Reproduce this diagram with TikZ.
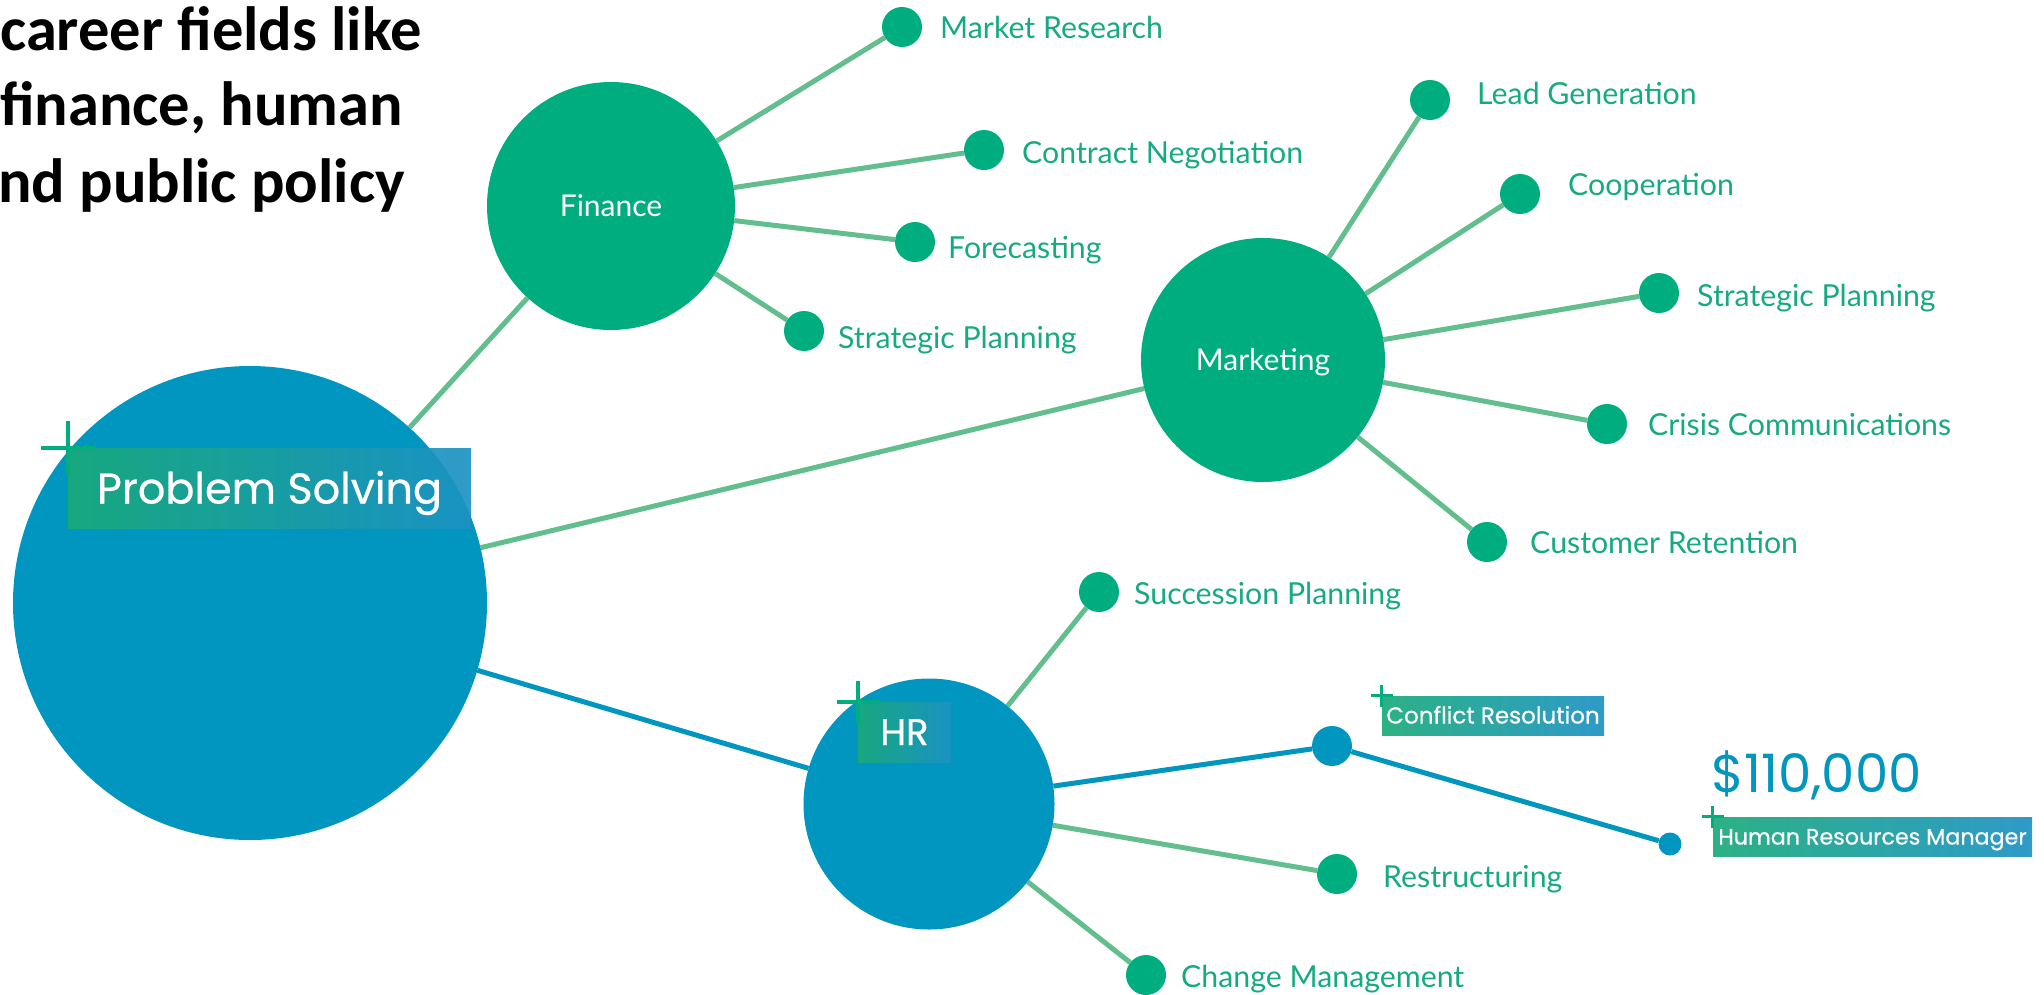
\documentclass[tikz,border=0pt]{standalone}
\usepackage{fontspec}
\setmainfont{Lato}
\newfontfamily\popp{Poppins}
\newfontfamily\poppm[FakeBold=0.6]{Poppins}
\newfontfamily\carl{Carlito}
\usetikzlibrary{backgrounds}
\definecolor{cgreen}{RGB}{0,173,127}
\definecolor{cblue}{RGB}{0,150,192}
\definecolor{lgreen}{RGB}{98,190,140}
\definecolor{tgreen}{RGB}{22,170,130}
\definecolor{gA}{RGB}{26,170,122}
\definecolor{gB}{RGB}{28,146,196}
\tikzset{
  big/.style={circle, inner sep=0pt, minimum size=#1, text=white,
    font=\fontsize{30}{36}\selectfont, text height=21.5pt, text depth=0pt},
  gdot/.style={circle, inner sep=0pt, minimum size=40pt, fill=cgreen},
  bdot/.style={circle, inner sep=0pt, minimum size=#1, fill=cblue},
  leaf/.style={anchor=base west, inner sep=0pt, text=tgreen, font=\fontsize{30.3}{36}\selectfont},
  gline/.style={draw=lgreen, line width=5pt},
  bline/.style={draw=cblue, line width=5pt},
  gbox/.style={inner sep=0pt, left color=gA, right color=gB, fill opacity=0.92,
    text opacity=1, text=white},
  plusline/.style={draw=cgreen, line width=#1},
  toptext/.style={anchor=base west, inner sep=0pt, text=black,
    font=\carl\bfseries\fontsize{62.5}{76}\selectfont},
}
\begin{document}
\begin{tikzpicture}[x=1pt, y=-1pt]
\useasboundingbox (0,0) rectangle (2044,994);
\clip (0,0) rectangle (2044,994);

% top-left text
\node[toptext] (t1) at (0,50) {career fields like};
\node[toptext] (t2) at (0,125) {finance, human};
\node[toptext] (t3) at (-2,202) {nd public policy};

% main circles
\node[big=474pt, fill=cblue] (ps) at (250,603) {};
\node[big=248pt, fill=cgreen] (fin) at (611,206) {Finance};
\node[big=244pt, fill=cgreen] (mkt) at (1263,360) {Marketing};
\node[big=251pt, fill=cblue] (hr) at (929,804) {};

% leaf dots
\node[gdot] (mr) at (902,27) {};
\node[gdot] (cn) at (984,150) {};
\node[gdot] (fc) at (915,242) {};
\node[gdot] (spf) at (804,331) {};
\node[gdot] (lg) at (1430,100) {};
\node[gdot] (coop) at (1520,194) {};
\node[gdot] (spm) at (1659,293) {};
\node[gdot] (cc) at (1607,424) {};
\node[gdot] (cur) at (1487,542) {};
\node[gdot] (sup) at (1099,592) {};
\node[bdot=40pt] (crd) at (1332,746) {};
\node[bdot=23pt] (hrmd) at (1670,844) {};
\node[gdot] (rst) at (1337,874) {};
\node[gdot] (chm) at (1146,975) {};

% connectors
\begin{scope}[on background layer]
\draw[gline] (ps) -- (fin);
\draw[gline] (ps) -- (mkt);
\draw[bline] (ps) -- (hr);
\draw[gline] (fin) -- (mr);
\draw[gline] (fin) -- (cn);
\draw[gline] (fin) -- (fc);
\draw[gline] (fin) -- (spf);
\draw[gline] (mkt) -- (lg);
\draw[gline] (mkt) -- (coop);
\draw[gline] (mkt) -- (spm);
\draw[gline] (mkt) -- (cc);
\draw[gline] (mkt) -- (cur);
\draw[gline] (hr) -- (sup);
\draw[bline] (hr) -- (crd);
\draw[gline] (hr) -- (rst);
\draw[gline] (hr) -- (chm);
\draw[bline] (crd) -- (hrmd);
\end{scope}

% leaf labels
\node[leaf] (lmr) at (940,38) {Market Research};
\node[leaf] (lcn) at (1022,163) {Contract Negotiation};
\node[leaf] (lfc) at (948,258) {Forecasting};
\node[leaf] (lspf) at (838,348) {Strategic Planning};
\node[leaf] (llg) at (1477,104) {Lead Generation};
\node[leaf] (lcoop) at (1568,195) {Cooperation};
\node[leaf] (lspm) at (1697,306) {Strategic Planning};
\node[leaf] (lcc) at (1648,435) {Crisis Communications};
\node[leaf] (lcur) at (1530,553) {Customer Retention};
\node[leaf] (lsup) at (1134,604) {Succession Planning};
\node[leaf] (lrst) at (1383,887) {Restructuring};
\node[leaf] (lchm) at (1181,987) {Change Management};

% gradient title boxes
\node[gbox, minimum width=403pt, minimum height=80pt, text height=31pt, text depth=0pt,
  font=\poppm\fontsize{43}{48}\selectfont] (psbox) at (269.5,488) {Problem Solving};
\node[gbox, minimum width=93pt, minimum height=60pt, text height=26pt, text depth=0pt,
  font=\poppm\fontsize{37}{40}\selectfont] (hrbox) at (904.5,732) {HR};
\node[gbox, minimum width=222pt, minimum height=39pt, text height=16pt, text depth=0pt,
  font=\poppm\fontsize{23}{26}\selectfont] (crbox) at (1493,715.5) {Conflict Resolution};
\node[gbox, minimum width=319pt, minimum height=39pt, text height=16pt, text depth=0pt,
  font=\poppm\fontsize{22.2}{26}\selectfont] (hrmbox) at (1872.5,836.5) {Human Resources Manager};

% plus marks
\draw[plusline=4pt] ([xshift=-27pt]psbox.north west) -- ([xshift=27pt]psbox.north west);
\draw[plusline=4pt] ([yshift=27pt]psbox.north west) -- ([yshift=-27pt]psbox.north west);
\draw[plusline=4pt] ([xshift=-21pt]hrbox.north west) -- ([xshift=21pt]hrbox.north west);
\draw[plusline=4pt] ([yshift=21pt]hrbox.north west) -- ([yshift=-21pt]hrbox.north west);
\draw[plusline=3pt] ([xshift=-11pt]crbox.north west) -- ([xshift=11pt]crbox.north west);
\draw[plusline=3pt] ([yshift=11pt]crbox.north west) -- ([yshift=-11pt]crbox.north west);
\draw[plusline=3pt] ([xshift=-11pt]hrmbox.north west) -- ([xshift=11pt]hrmbox.north west);
\draw[plusline=3pt] ([yshift=11pt]hrmbox.north west) -- ([yshift=-11pt]hrmbox.north west);

% salary
\node[anchor=base west, inner sep=0pt, text=cblue, font=\popp\fontsize{53}{58}\selectfont]
  (sal) at (1711,792) {\$110,000};
\end{tikzpicture}
\end{document}
